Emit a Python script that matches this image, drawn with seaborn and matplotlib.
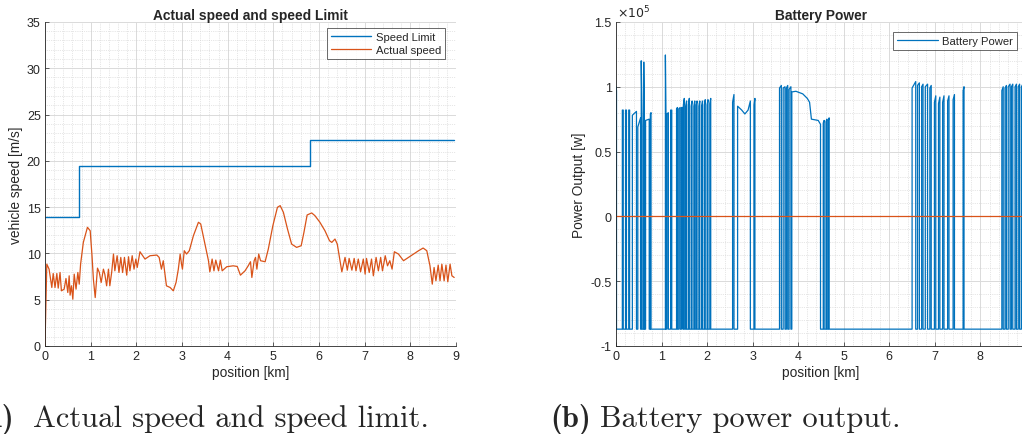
import numpy as np
import pandas as pd
import seaborn as sns
import matplotlib.pyplot as plt
from matplotlib.ticker import MultipleLocator, FuncFormatter, FixedLocator

# speed limit along the route (steps)
limit_km = [0.0, 0.745, 5.81, 8.96]
limit_ms = [13.9, 19.44, 22.22, 22.22]

# actual vehicle speed
speed_km = [0.00, 0.04, 0.09, 0.15, 0.18, 0.22, 0.26, 0.29, 0.33, 0.36,
            0.42, 0.46, 0.50, 0.53, 0.55, 0.58, 0.61, 0.64, 0.68, 0.72,
            0.75, 0.78, 0.84, 0.93, 0.99, 1.03, 1.06, 1.10, 1.15, 1.19,
            1.23, 1.28, 1.31, 1.35, 1.39, 1.42, 1.46, 1.50, 1.53, 1.58,
            1.62, 1.66, 1.70, 1.74, 1.79, 1.83, 1.86, 1.91, 1.95, 1.99,
            2.02, 2.08, 2.19, 2.30, 2.45, 2.50, 2.55, 2.59, 2.66, 2.74,
            2.81, 2.87, 2.92, 2.96, 2.99, 3.01, 3.05, 3.10, 3.16, 3.25,
            3.36, 3.41, 3.48, 3.58, 3.61, 3.66, 3.70, 3.74, 3.80, 3.84,
            3.88, 3.98, 4.12, 4.21, 4.28, 4.38, 4.45, 4.50, 4.53, 4.58,
            4.61, 4.64, 4.68, 4.72, 4.82, 4.89, 4.99, 5.09, 5.15, 5.22,
            5.31, 5.40, 5.51, 5.61, 5.67, 5.74, 5.84, 5.91, 6.02, 6.13,
            6.23, 6.28, 6.35, 6.40, 6.46, 6.50, 6.57, 6.62, 6.66, 6.72,
            6.77, 6.81, 6.86, 6.91, 6.97, 7.01, 7.04, 7.10, 7.15, 7.19,
            7.25, 7.30, 7.35, 7.39, 7.45, 7.50, 7.55, 7.60, 7.65, 7.74,
            7.85, 7.96, 8.07, 8.18, 8.28, 8.36, 8.43, 8.48, 8.52, 8.56,
            8.61, 8.65, 8.69, 8.74, 8.78, 8.82, 8.87, 8.91, 8.96]
speed_ms = [0.00, 8.84, 8.30, 6.32, 7.83, 6.32, 7.83, 6.25, 7.94, 5.96,
            6.14, 7.29, 5.78, 7.58, 5.49, 6.50, 5.05, 7.76, 6.14, 7.94,
            6.68, 8.84, 11.19, 12.82, 12.45, 9.75, 7.22, 5.23, 8.41, 7.94,
            6.86, 8.30, 7.76, 6.50, 8.30, 6.50, 7.94, 9.93, 8.12, 9.75,
            7.94, 9.57, 7.94, 9.57, 7.65, 9.64, 8.12, 9.75, 8.30, 9.39,
            8.48, 10.18, 9.39, 9.75, 9.82, 9.57, 8.30, 9.21, 6.50, 6.32,
            5.96, 6.86, 8.30, 9.93, 8.84, 8.30, 10.29, 9.93, 10.29, 11.91,
            13.36, 13.18, 11.55, 9.21, 8.01, 9.39, 8.12, 9.28, 8.12, 9.28,
            8.12, 8.56, 8.66, 8.59, 7.65, 8.12, 8.66, 9.10, 7.40, 9.21,
            9.57, 8.30, 9.93, 9.21, 9.10, 10.47, 13.00, 14.98, 15.16, 14.44,
            12.64, 11.01, 10.65, 10.83, 12.27, 14.15, 14.37, 14.08, 13.36, 12.45,
            11.37, 11.19, 11.55, 11.01, 9.21, 8.01, 9.57, 8.19, 9.46, 8.19,
            9.46, 8.12, 9.39, 8.01, 9.39, 7.76, 9.46, 7.94, 9.39, 7.58,
            9.57, 8.12, 9.57, 8.12, 9.75, 8.66, 9.21, 8.30, 10.18, 9.93,
            9.21, 9.57, 9.93, 10.29, 10.58, 10.29, 8.66, 6.68, 8.48, 7.04,
            8.74, 7.04, 8.84, 7.04, 8.74, 6.93, 8.84, 7.58, 7.40]

# battery power pulses: start/end position [km], power at start/end [kW]
floor_kw = -87.0
pulse_on = [0.00, 0.14, 0.21, 0.28, 0.36, 0.48, 0.555, 0.61, 0.65, 0.755,
            1.085, 1.12, 1.20, 1.33, 1.38, 1.44, 1.48, 1.53, 1.59, 1.65,
            1.71, 1.76, 1.82, 1.88, 1.94, 2.00, 2.06,
            2.56, 2.67, 2.76, 2.83, 2.90, 3.03,
            3.59, 3.67, 3.74, 3.80, 3.86, 3.95, 4.10, 4.20, 4.25, 4.29,
            4.44, 4.55, 4.61, 4.66,
            6.50, 6.62, 6.71, 6.79, 6.89, 6.99, 7.08, 7.17, 7.28, 7.40, 7.62,
            8.47, 8.54, 8.61, 8.68, 8.76, 8.83, 8.90]
pulse_off = [0.012, 0.16, 0.23, 0.30, 0.45, 0.54, 0.575, 0.625, 0.73, 0.77,
             1.10, 1.15, 1.225, 1.35, 1.41, 1.47, 1.50, 1.55, 1.61, 1.67,
             1.73, 1.78, 1.84, 1.90, 1.96, 2.02, 2.08,
             2.59, 2.76, 2.83, 2.90, 2.95, 3.05,
             3.63, 3.71, 3.77, 3.84, 3.95, 4.10, 4.20, 4.25, 4.29, 4.44,
             4.49, 4.57, 4.63, 4.68,
             6.58, 6.66, 6.74, 6.84, 6.92, 7.02, 7.11, 7.20, 7.31, 7.43, 7.64,
             8.50, 8.57, 8.65, 8.71, 8.79, 8.86, 8.93]
top_on_kw = [100, 82, 82, 82, 78, 69, 120, 119, 74, 79,
             124.5, 79, 82, 83, 83, 84, 86, 85, 86, 85,
             85, 86, 85, 85, 86, 86, 87,
             88, 85, 82, 79, 82, 86,
             99, 99, 99, 98, 96, 96.5, 94.5, 91, 88, 75,
             74, 72, 73, 74,
             99, 101, 100, 100, 99, 88, 87, 88, 89, 90, 97,
             97, 99, 100, 100, 100, 100, 100]
top_off_kw = [97, 82, 82, 82, 81, 76, 70, 68, 75, 80,
              70, 80, 82, 84, 84, 84, 91, 89, 91, 89,
              89, 89, 89, 89, 90, 90, 91,
              94, 82, 79, 82, 89, 91,
              101, 100, 101, 100, 96.5, 94.5, 91, 88, 75, 74,
              71, 74, 75, 76,
              104, 103, 102, 102, 101, 93, 92, 93, 93, 94, 100,
              100, 101, 102, 102, 102, 102, 102]

zero_km = [0.0, 9.0]
zero_w = [0.0, 0.0]

# build the battery power trace from the pulses
pw_km, pw_kw = [], []
prev_off = None
for on, off, a, b in zip(pulse_on, pulse_off, top_on_kw, top_off_kw):
    if prev_off is None or on > prev_off + 1e-9:
        if prev_off is not None:
            pw_km.append(prev_off)
            pw_kw.append(floor_kw)
        pw_km += [on, on]
        pw_kw += [floor_kw, a]
    else:
        pw_km.append(on)
        pw_kw.append(a)
    pw_km.append(off)
    pw_kw.append(b)
    prev_off = off
pw_km += [prev_off, 9.0]
pw_kw += [floor_kw, floor_kw]
power = pd.DataFrame({"km": pw_km, "W": np.array(pw_kw) * 1000})

sns.set_theme(style="white")
plt.rcParams['font.family'] = ['Liberation Sans', 'DejaVu Sans']

blue = "#0072BD"
orange = "#D95319"
dark = "#262626"

fig = plt.figure(figsize=(10.22, 4.35), dpi=100)
ax1 = fig.add_axes([0.044, 0.2023, 0.4022, 0.745])
ax2 = fig.add_axes([0.6027, 0.2023, 0.4012, 0.745])

sns.lineplot(x=limit_km, y=limit_ms, ax=ax1, color=blue, lw=1.0,
             drawstyle="steps-post", label="Speed Limit", sort=False, estimator=None)
sns.lineplot(x=speed_km, y=speed_ms, ax=ax1, color=orange, lw=0.9,
             label="Actual speed", sort=False, estimator=None)

sns.lineplot(data=power, x="km", y="W", ax=ax2, color=blue, lw=0.9,
             label="Battery Power", sort=False, estimator=None)
sns.lineplot(x=zero_km, y=zero_w, ax=ax2, color=orange, lw=0.9,
             label="_nolegend_", sort=False, estimator=None)

ax1.set_xlim(0, 9)
ax1.set_ylim(0, 35)
ax1.xaxis.set_major_locator(MultipleLocator(1))
ax1.xaxis.set_minor_locator(MultipleLocator(0.2))
ax1.yaxis.set_major_locator(MultipleLocator(5))
ax1.yaxis.set_minor_locator(MultipleLocator(1))

# the right panel is cropped just before x = 9
ax2.set_xlim(0, 9)
ax2.set_ylim(-1e5, 1.5e5)
ax2.xaxis.set_major_locator(FixedLocator(range(0, 9)))
ax2.xaxis.set_minor_locator(MultipleLocator(0.2))
ax2.yaxis.set_major_locator(MultipleLocator(0.5e5))
ax2.yaxis.set_minor_locator(MultipleLocator(0.1e5))
ax2.yaxis.set_major_formatter(FuncFormatter(lambda v, p: f"{v / 1e5:g}"))
ax2.text(0.003, 1.004, r"$\times10^{5}$", transform=ax2.transAxes,
         ha="left", va="bottom", fontsize=9, color=dark)

for ax in (ax1, ax2):
    ax.grid(which="major", color="#dadada", lw=0.7)
    ax.grid(which="minor", color="#cfcfcf", lw=0.5, ls=":")
    ax.set_axisbelow(True)
    for s in ("top", "right"):
        ax.spines[s].set_visible(False)
    for s in ("left", "bottom"):
        ax.spines[s].set_color(dark)
        ax.spines[s].set_linewidth(0.6)
    ax.tick_params(which="major", direction="in", length=3, width=0.5,
                   color=dark, labelcolor=dark, labelsize=9, pad=3,
                   bottom=True, left=True)
    ax.tick_params(which="minor", length=0)
    ax.set_xlabel("position [km]", fontsize=9.9, color=dark, labelpad=2)

ax1.set_ylabel("vehicle speed [m/s]", fontsize=9.9, color=dark, labelpad=3)
ax2.set_ylabel("Power Output [w]", fontsize=9.9, color=dark, labelpad=3)
ax1.set_title("Actual speed and speed Limit", fontsize=9.9, fontweight="bold", pad=2)
ax2.set_title("Battery Power", fontsize=9.9, fontweight="bold", pad=2)

for ax, anchor in ((ax1, (0.973, 0.981)), (ax2, (0.978, 0.969))):
    leg = ax.legend(loc="upper right", bbox_to_anchor=anchor, borderaxespad=0,
                    fontsize=8.1, handlelength=3.6, frameon=True, fancybox=False,
                    borderpad=0.35, labelspacing=0.25, handletextpad=0.4)
    leg.get_frame().set_edgecolor(dark)
    leg.get_frame().set_linewidth(0.6)

# sub-figure captions
fig.text(14 / 1022, 0.018, "(a)", fontsize=22, family="cmb10", ha="right", va="baseline")
fig.text(33 / 1022, 0.018, "Actual speed and speed limit.", fontsize=22, family="cmr10",
         ha="left", va="baseline")
fig.text(550 / 1022, 0.018, "(b)", fontsize=22, family="cmb10", ha="left", va="baseline")
fig.text(600 / 1022, 0.018, "Battery power output.", fontsize=22, family="cmr10",
         ha="left", va="baseline")

fig.savefig("out.png", dpi=100)
